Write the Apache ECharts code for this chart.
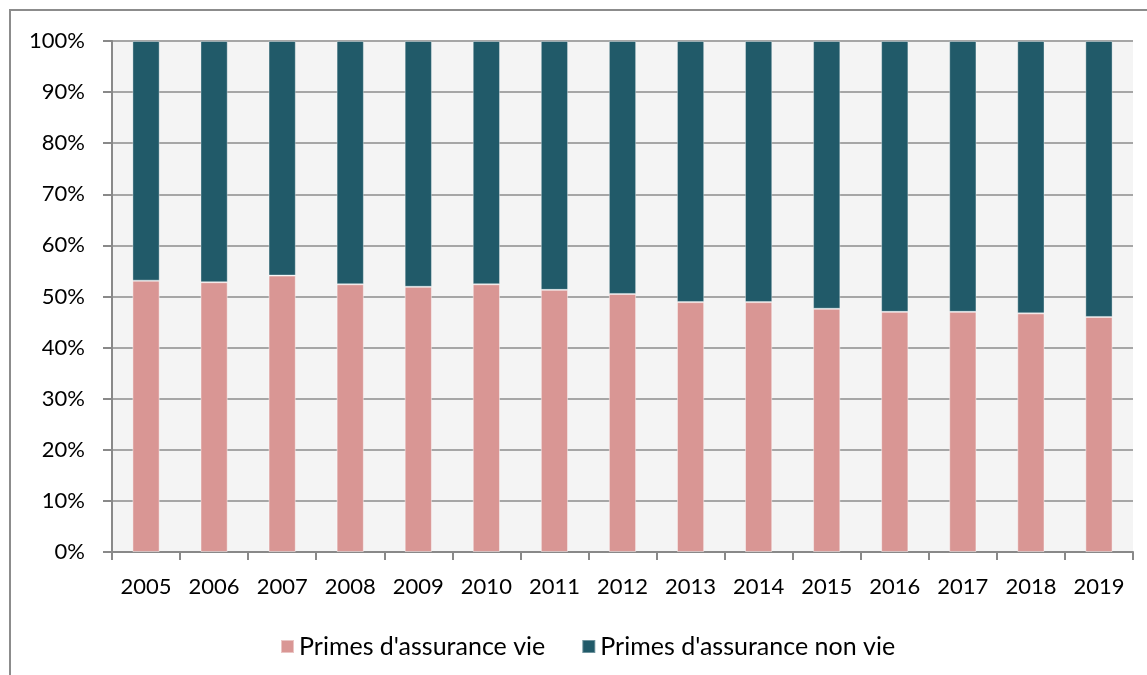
<!DOCTYPE html>
<html>
<head>
<meta charset="utf-8">
<script src="https://cdn.jsdelivr.net/npm/echarts@6/dist/echarts.min.js"></script>
<style>
  html, body { margin: 0; padding: 0; background: #ffffff; }
  #chart { width: 1147px; height: 675px; }
</style>
</head>
<body>
<div id="chart"></div>
<script>
// Années
const years = ['2005', '2006', '2007', '2008', '2009', '2010', '2011', '2012',
               '2013', '2014', '2015', '2016', '2017', '2018', '2019'];

// Part des primes d'assurance vie (%)
const vie = [53.1, 52.8, 54.1, 52.4, 51.9, 52.4, 51.3, 50.5,
             48.9, 48.9, 47.6, 47.0, 47.0, 46.7, 46.0];

// Part des primes d'assurance non vie (%)
const nonVie = [46.9, 47.2, 45.9, 47.6, 48.1, 47.6, 48.7, 49.5,
                51.1, 51.1, 52.4, 53.0, 53.0, 53.3, 54.0];

const seriesNames = ["Primes d'assurance vie", "Primes d'assurance non vie"];
const colors = ['#d99694', '#215a69'];

const font = 'Lato, "Open Sans", sans-serif';

const chart = echarts.init(document.getElementById('chart'), null, { renderer: 'canvas' });

chart.setOption({
  animation: false,
  color: colors,
  graphic: [{
    type: 'rect',
    shape: { x: 10, y: 10, width: 1300, height: 900 },
    style: { fill: 'none', stroke: '#8c8c8c', lineWidth: 2 },
    silent: true,
    z: -10
  }],
  grid: {
    left: 112, right: 14, top: 41, bottom: 123,
    show: true, backgroundColor: '#f4f4f4', borderWidth: 0
  },
  legend: {
    data: seriesNames,
    left: 275, top: 629,
    itemWidth: 13, itemHeight: 13, itemGap: 36,
    icon: 'rect',
    textStyle: { fontFamily: font, fontSize: 25, color: '#000' }
  },
  xAxis: {
    type: 'category',
    data: years,
    boundaryGap: true,
    axisLine: { show: true, lineStyle: { color: '#898989', width: 2 } },
    axisTick: { show: true, length: 8, lineStyle: { color: '#898989', width: 2 } },
    axisLabel: { fontFamily: font, fontSize: 22, color: '#000', margin: 24 },
    splitLine: { show: false }
  },
  yAxis: {
    type: 'value',
    min: 0, max: 100, interval: 10,
    axisLine: { show: true, lineStyle: { color: '#898989', width: 2 } },
    axisTick: { show: true, length: 9, lineStyle: { color: '#898989', width: 2 } },
    axisLabel: { fontFamily: font, fontSize: 22, color: '#000', margin: 27, formatter: '{value}%' },
    splitLine: { show: true, lineStyle: { color: '#a6a6a6', width: 2 } }
  },
  series: [
    {
      name: seriesNames[0], type: 'bar', stack: 'total', data: vie, barWidth: '40%',
      itemStyle: { borderColor: 'rgba(255,255,255,0.45)', borderWidth: 1 }
    },
    {
      name: seriesNames[1], type: 'bar', stack: 'total', data: nonVie, barWidth: '40%',
      itemStyle: { borderColor: 'rgba(255,255,255,0.35)', borderWidth: 1 }
    }
  ]
});
</script>
</body>
</html>
